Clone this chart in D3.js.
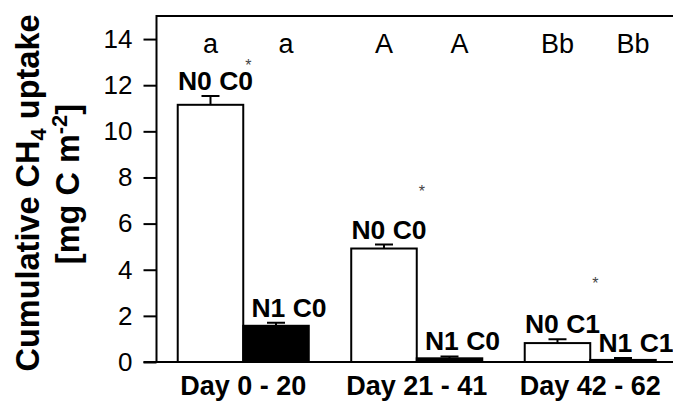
<!DOCTYPE html>
<html>
  <head>
    <meta charset="UTF-8">
    <title>Cumulative CH4 uptake</title>
    <script src="https://cdn.jsdelivr.net/npm/d3@7"></script>
    <style>
      body { margin: 0; background: #fff; font-family: Arial, "Liberation Sans", sans-serif; }
    </style>
  </head>
  <body>
    <script>
      // data
      var periods = ["Day 0 - 20", "Day 21 - 41", "Day 42 - 62"];
      var series = ["N0", "N1"];
      var n0Mean = [11.15, 4.92, 0.82];
      var n0Err = [0.38, 0.17, 0.17];
      var n1Mean = [1.57, 0.16, 0.09];
      var n1Err = [0.13, 0.08, 0.08];
      var n0Labels = ["N0 C0", "N0 C0", "N0 C1"];
      var n1Labels = ["N1 C0", "N1 C0", "N1 C1"];
      var n0Letters = ["a", "A", "Bb"];
      var n1Letters = ["a", "A", "Bb"];
      var starHeights = [12.95, 7.5, 3.5];
      var yTicks = [0, 2, 4, 6, 8, 10, 12, 14];

      var W = 673, H = 401;
      var plotLeft = 156.5, plotTop = 16, plotBottom = 362;

      var svg = d3.select("body").append("svg")
        .attr("width", W)
        .attr("height", H);

      var y = d3.scaleLinear().domain([0, 15]).range([plotBottom, plotTop]);
      var x = d3.scaleBand().domain(periods).range([plotLeft, 677]);
      var xInner = d3.scaleBand().domain(series)
        .range([0, x.bandwidth()])
        .paddingInner(0).paddingOuter(0.324);

      var bars = [];
      periods.forEach(function (p, i) {
        bars.push({ period: p, s: "N0", v: n0Mean[i], e: n0Err[i], label: n0Labels[i], letter: n0Letters[i], fill: "#fff", lx: 5 });
        bars.push({ period: p, s: "N1", v: n1Mean[i], e: n1Err[i], label: n1Labels[i], letter: n1Letters[i], fill: "#000", lx: 13 });
      });
      function bx(d) { return x(d.period) + xInner(d.s); }
      function cx(d) { return bx(d) + xInner.bandwidth() / 2; }

      // frame: top line and left axis
      svg.append("line")
        .attr("x1", plotLeft).attr("x2", W)
        .attr("y1", plotTop).attr("y2", plotTop)
        .attr("stroke", "#000").attr("stroke-width", 2);

      var yAxis = svg.append("g")
        .attr("transform", "translate(" + plotLeft + ",0)")
        .call(d3.axisLeft(y).tickValues(yTicks).tickSize(13).tickPadding(11));
      yAxis.select(".domain").remove();
      yAxis.selectAll(".tick line").attr("stroke-width", 2);
      yAxis.selectAll(".tick text")
        .style("font-size", "26px")
        .style("font-family", "Arial, 'Liberation Sans', sans-serif")
        .attr("fill", "#000");
      svg.append("line")
        .attr("x1", plotLeft).attr("x2", plotLeft)
        .attr("y1", plotTop - 1).attr("y2", plotBottom)
        .attr("stroke", "#000").attr("stroke-width", 2);

      // bars
      svg.selectAll(".bar")
        .data(bars)
        .enter().append("rect")
        .attr("class", "bar")
        .attr("x", bx)
        .attr("y", function (d) { return y(d.v); })
        .attr("width", xInner.bandwidth())
        .attr("height", function (d) { return plotBottom - y(d.v); })
        .attr("fill", function (d) { return d.fill; })
        .attr("stroke", "#000")
        .attr("stroke-width", 2);

      // error bars
      svg.selectAll(".err")
        .data(bars)
        .enter().append("path")
        .attr("class", "err")
        .attr("d", function (d) {
          var c = cx(d), t = y(d.v + d.e);
          return "M" + c + "," + y(d.v) + "V" + t + "M" + (c - 9) + "," + t + "H" + (c + 9);
        })
        .attr("fill", "none")
        .attr("stroke", "#000")
        .attr("stroke-width", 2);

      // x axis line
      svg.append("line")
        .attr("x1", plotLeft - 13).attr("x2", W)
        .attr("y1", plotBottom).attr("y2", plotBottom)
        .attr("stroke", "#000").attr("stroke-width", 2);

      // treatment labels above bars
      svg.selectAll(".lbl")
        .data(bars)
        .enter().append("text")
        .attr("class", "lbl")
        .attr("x", function (d) { return cx(d) + d.lx; })
        .attr("y", function (d) { return y(d.v + d.e) - 6; })
        .attr("text-anchor", "middle")
        .style("font-size", "26.5px")
        .style("font-weight", "bold")
        .text(function (d) { return d.label; });

      // significance letters along the top
      svg.selectAll(".letter")
        .data(bars)
        .enter().append("text")
        .attr("class", "letter")
        .attr("x", function (d) { return cx(d) + (d.s === "N1" ? 10 : 0); })
        .attr("y", 53)
        .attr("text-anchor", "middle")
        .style("font-size", "27px")
        .text(function (d) { return d.letter; });

      // asterisks
      svg.selectAll(".star")
        .data(periods)
        .enter().append("text")
        .attr("class", "star")
        .attr("x", function (d) { return x(d) + xInner("N1") + 5; })
        .attr("y", function (d, i) { return y(starHeights[i]) + 8; })
        .attr("text-anchor", "middle")
        .attr("fill", "#444")
        .style("font-size", "16px")
        .text("*");

      // period labels
      svg.selectAll(".period")
        .data(periods)
        .enter().append("text")
        .attr("class", "period")
        .attr("x", function (d) { return x(d) + x.bandwidth() / 2; })
        .attr("y", 395)
        .attr("text-anchor", "middle")
        .style("font-size", "27px")
        .style("font-weight", "bold")
        .text(function (d) { return d; });

      // y title
      var t1 = svg.append("text")
        .attr("transform", "translate(39,193) rotate(-90)")
        .attr("text-anchor", "middle")
        .style("font-size", "32.5px")
        .style("font-weight", "bold");
      t1.append("tspan").text("Cumulative CH");
      t1.append("tspan").attr("dy", 7).style("font-size", "22px").text("4");
      t1.append("tspan").attr("dy", -7).text(" uptake");

      var t2 = svg.append("text")
        .attr("transform", "translate(79,184) rotate(-90)")
        .attr("text-anchor", "middle")
        .style("font-size", "32.5px")
        .style("font-weight", "bold");
      t2.append("tspan").text("[mg C m");
      t2.append("tspan").attr("dy", -12).style("font-size", "22px").text("-2");
      t2.append("tspan").attr("dy", 12).text("]");
    </script>
  </body>
</html>
